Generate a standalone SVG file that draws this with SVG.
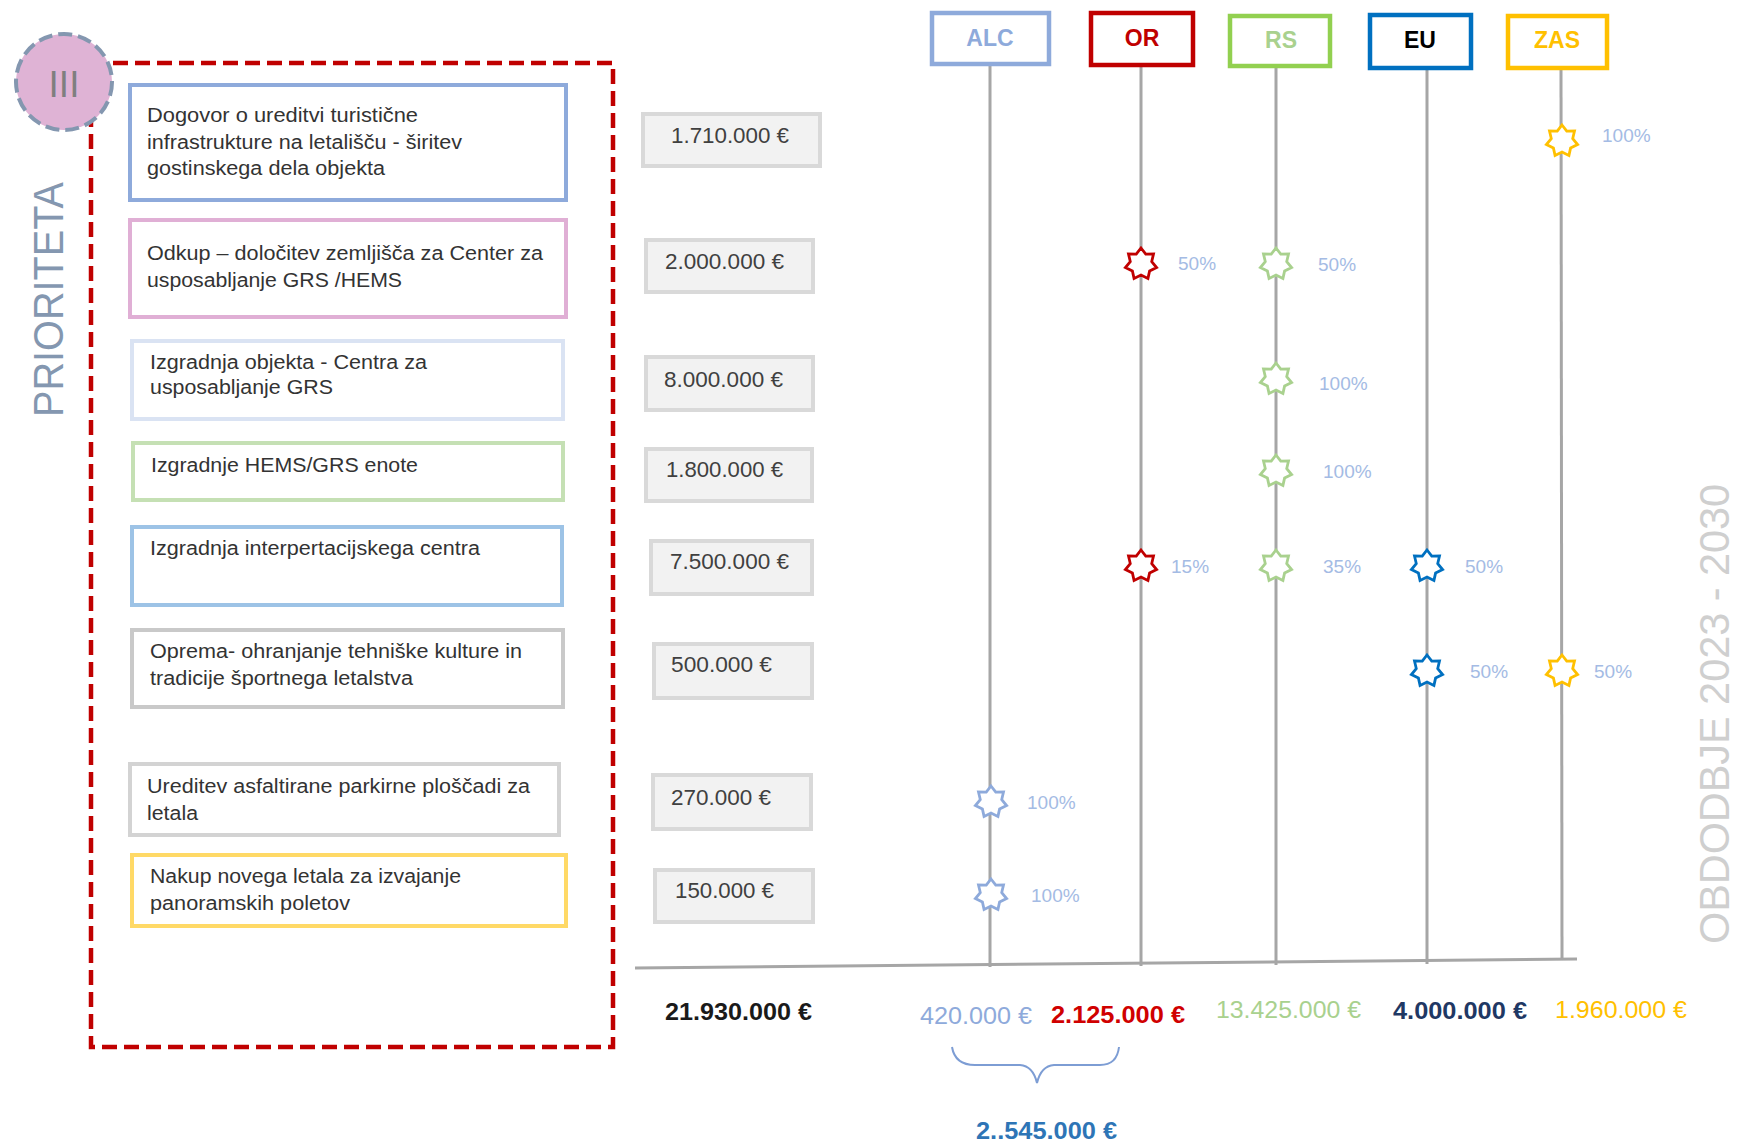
<svg xmlns="http://www.w3.org/2000/svg" xmlns:xlink="http://www.w3.org/1999/xlink" width="1737" height="1145" viewBox="0 0 1737 1145">
<style>
text{font-family:"Liberation Sans",Arial,sans-serif}
.task{fill:#fff;stroke-width:4}
.tt{font-size:20px;fill:#333}
.amt{fill:#f2f2f2;stroke:#d9d9d9;stroke-width:4}
.at{font-size:22px;fill:#404040}
.hdr{fill:#fff;stroke-width:4.5}
.ht{font-size:23px;font-weight:bold;text-anchor:middle}
.vl{stroke:#a6a6a6;stroke-width:3;fill:none}
.pct{font-size:19px;fill:#a4bbe4}
.star{fill:#fff;stroke-width:2.8;stroke-linejoin:miter}
.tot{font-size:24px}
</style>
<defs>
<path id="star" d="M0,-16 L4.77,-9.91 L12.51,-9.98 L10.72,-2.45 L15.6,3.56 L8.6,6.86 L6.94,14.42 L0,11 L-6.94,14.42 L-8.6,6.86 L-15.6,3.56 L-10.72,-2.45 L-12.51,-9.98 L-4.77,-9.91 Z"/>
</defs>
<rect width="1737" height="1145" fill="#fff"/>

<g id="connectors">
<line class="vl" x1="990" y1="64" x2="990" y2="967"/>
<line class="vl" x1="1141" y1="65" x2="1141" y2="966"/>
<line class="vl" x1="1276" y1="66" x2="1276" y2="965"/>
<line class="vl" x1="1427" y1="68" x2="1427" y2="964"/>
<line class="vl" x1="1561" y1="68" x2="1562" y2="960"/>
<line class="vl" x1="635" y1="968" x2="1577" y2="959"/>
<path d="M952,1047 Q955,1065 975,1065 L1020,1065 Q1033,1066 1037,1083 Q1041,1066 1054,1065 L1100,1065 Q1117,1065 1119,1047" fill="none" stroke="#7d9dd4" stroke-width="2"/>
</g>

<g id="priority-frame">
<rect x="91" y="63" width="522" height="984" fill="none" stroke="#c00000" stroke-width="4.5" stroke-dasharray="15 7"/>
</g>

<g id="priority-badge">
<circle cx="64" cy="82" r="48" fill="#dfb3d5" stroke="#8497b0" stroke-width="4" stroke-dasharray="14 6"/>
<text x="64" y="97" font-size="37" fill="#7f7f7f" text-anchor="middle">III</text>
</g>

<g id="label-prioriteta">
<text transform="translate(63,417) rotate(-90)" font-size="43" fill="#8497b0" textLength="235" lengthAdjust="spacingAndGlyphs">PRIORITETA</text>
</g>

<g id="label-obdobje">
<text transform="translate(1729,944) rotate(-90)" font-size="42" fill="#cfcfcf" textLength="460" lengthAdjust="spacingAndGlyphs">OBDODBJE 2023 - 2030</text>
</g>

<g id="task1">
<rect class="task" x="130" y="85" width="436" height="115" stroke="#8eaadb"/>
<text class="tt" x="147" y="122" textLength="271" lengthAdjust="spacingAndGlyphs">Dogovor o ureditvi turistične</text>
<text class="tt" x="147" y="149" textLength="315" lengthAdjust="spacingAndGlyphs">infrastrukture na letališču - širitev</text>
<text class="tt" x="147" y="175" textLength="238" lengthAdjust="spacingAndGlyphs">gostinskega dela objekta</text>
</g>
<g id="task2">
<rect class="task" x="130" y="220" width="436" height="97" stroke="#e0afd5"/>
<text class="tt" x="147" y="260" textLength="396" lengthAdjust="spacingAndGlyphs">Odkup – določitev zemljišča za Center za</text>
<text class="tt" x="147" y="287" textLength="255" lengthAdjust="spacingAndGlyphs">usposabljanje GRS /HEMS</text>
</g>
<g id="task3">
<rect class="task" x="132" y="341" width="431" height="78" stroke="#dae3f3"/>
<text class="tt" x="150" y="369" textLength="277" lengthAdjust="spacingAndGlyphs">Izgradnja objekta - Centra za</text>
<text class="tt" x="150" y="394" textLength="183" lengthAdjust="spacingAndGlyphs">usposabljanje GRS</text>
</g>
<g id="task4">
<rect class="task" x="133" y="443" width="430" height="57" stroke="#c5e0b4"/>
<text class="tt" x="151" y="472" textLength="267" lengthAdjust="spacingAndGlyphs">Izgradnje HEMS/GRS enote</text>
</g>
<g id="task5">
<rect class="task" x="132" y="527" width="430" height="78" stroke="#9dc3e6"/>
<text class="tt" x="150" y="555" textLength="330" lengthAdjust="spacingAndGlyphs">Izgradnja interpertacijskega centra</text>
</g>
<g id="task6">
<rect class="task" x="132" y="630" width="431" height="77" stroke="#c9c9c9"/>
<text class="tt" x="150" y="658" textLength="372" lengthAdjust="spacingAndGlyphs">Oprema- ohranjanje tehniške kulture in</text>
<text class="tt" x="150" y="685" textLength="263" lengthAdjust="spacingAndGlyphs">tradicije športnega letalstva</text>
</g>
<g id="task7">
<rect class="task" x="130" y="764" width="429" height="71" stroke="#d3d3d3"/>
<text class="tt" x="147" y="793" textLength="383" lengthAdjust="spacingAndGlyphs">Ureditev asfaltirane parkirne ploščadi za</text>
<text class="tt" x="147" y="820" textLength="51" lengthAdjust="spacingAndGlyphs">letala</text>
</g>
<g id="task8">
<rect class="task" x="132" y="855" width="434" height="71" stroke="#ffd966"/>
<text class="tt" x="150" y="883" textLength="311" lengthAdjust="spacingAndGlyphs">Nakup novega letala za izvajanje</text>
<text class="tt" x="150" y="910" textLength="200" lengthAdjust="spacingAndGlyphs">panoramskih poletov</text>
</g>

<g id="amount1"><rect class="amt" x="643" y="114" width="177" height="52"/><text class="at" x="671" y="143" textLength="118" lengthAdjust="spacingAndGlyphs">1.710.000 €</text></g>
<g id="amount2"><rect class="amt" x="646" y="240" width="167" height="52"/><text class="at" x="665" y="269" textLength="119" lengthAdjust="spacingAndGlyphs">2.000.000 €</text></g>
<g id="amount3"><rect class="amt" x="646" y="357" width="167" height="53"/><text class="at" x="664" y="387" textLength="119" lengthAdjust="spacingAndGlyphs">8.000.000 €</text></g>
<g id="amount4"><rect class="amt" x="646" y="449" width="166" height="52"/><text class="at" x="666" y="477" textLength="117" lengthAdjust="spacingAndGlyphs">1.800.000 €</text></g>
<g id="amount5"><rect class="amt" x="651" y="541" width="161" height="53"/><text class="at" x="670" y="569" textLength="119" lengthAdjust="spacingAndGlyphs">7.500.000 €</text></g>
<g id="amount6"><rect class="amt" x="654" y="644" width="158" height="54"/><text class="at" x="671" y="672" textLength="101" lengthAdjust="spacingAndGlyphs">500.000 €</text></g>
<g id="amount7"><rect class="amt" x="653" y="775" width="158" height="54"/><text class="at" x="671" y="805" textLength="100" lengthAdjust="spacingAndGlyphs">270.000 €</text></g>
<g id="amount8"><rect class="amt" x="655" y="870" width="158" height="52"/><text class="at" x="675" y="898" textLength="99" lengthAdjust="spacingAndGlyphs">150.000 €</text></g>

<g id="hdr-alc"><rect class="hdr" x="932" y="13" width="117" height="51" stroke="#8eaadb"/><text class="ht" x="990" y="46" fill="#8eaadb">ALC</text></g>
<g id="hdr-or"><rect class="hdr" x="1091" y="13" width="102" height="52" stroke="#c00000"/><text class="ht" x="1142" y="46" fill="#c00000">OR</text></g>
<g id="hdr-rs"><rect class="hdr" x="1230" y="16" width="100" height="50" stroke="#92d050"/><text class="ht" x="1281" y="48" fill="#a9d18e">RS</text></g>
<g id="hdr-eu"><rect class="hdr" x="1370" y="15" width="101" height="53" stroke="#0070c0"/><text class="ht" x="1420" y="48" fill="#000">EU</text></g>
<g id="hdr-zas"><rect class="hdr" x="1508" y="16" width="99" height="52" stroke="#ffc000"/><text class="ht" x="1557" y="48" fill="#ffc000">ZAS</text></g>

<g id="marks">
<use href="#star" xlink:href="#star" class="star" x="1562" y="141" stroke="#ffc000"/><text class="pct" x="1602" y="142">100%</text>
<use href="#star" xlink:href="#star" class="star" x="1141" y="264" stroke="#c00000"/><text class="pct" x="1178" y="270">50%</text>
<use href="#star" xlink:href="#star" class="star" x="1276" y="264" stroke="#a9d18e"/><text class="pct" x="1318" y="271">50%</text>
<use href="#star" xlink:href="#star" class="star" x="1276" y="379" stroke="#a9d18e"/><text class="pct" x="1319" y="390">100%</text>
<use href="#star" xlink:href="#star" class="star" x="1276" y="471" stroke="#a9d18e"/><text class="pct" x="1323" y="478">100%</text>
<use href="#star" xlink:href="#star" class="star" x="1141" y="566" stroke="#c00000"/><text class="pct" x="1171" y="573">15%</text>
<use href="#star" xlink:href="#star" class="star" x="1276" y="566" stroke="#a9d18e"/><text class="pct" x="1323" y="573">35%</text>
<use href="#star" xlink:href="#star" class="star" x="1427" y="566" stroke="#0070c0"/><text class="pct" x="1465" y="573">50%</text>
<use href="#star" xlink:href="#star" class="star" x="1427" y="671" stroke="#0070c0"/><text class="pct" x="1470" y="678">50%</text>
<use href="#star" xlink:href="#star" class="star" x="1562" y="671" stroke="#ffc000"/><text class="pct" x="1594" y="678">50%</text>
<use href="#star" xlink:href="#star" class="star" x="991" y="802" stroke="#8eaadb"/><text class="pct" x="1027" y="809">100%</text>
<use href="#star" xlink:href="#star" class="star" x="991" y="895" stroke="#8eaadb"/><text class="pct" x="1031" y="902">100%</text>
</g>

<g id="totals">
<text class="tot" x="665" y="1020" font-weight="bold" fill="#1a1a1a" textLength="147" lengthAdjust="spacingAndGlyphs">21.930.000 €</text>
<text class="tot" x="920" y="1024" fill="#8eaadb" textLength="112" lengthAdjust="spacingAndGlyphs">420.000 €</text>
<text class="tot" x="1051" y="1023" font-weight="bold" fill="#d00000" textLength="134" lengthAdjust="spacingAndGlyphs">2.125.000 €</text>
<text class="tot" x="1216" y="1018" fill="#a9d18e" textLength="145" lengthAdjust="spacingAndGlyphs">13.425.000 €</text>
<text class="tot" x="1393" y="1019" font-weight="bold" fill="#1f3864" textLength="134" lengthAdjust="spacingAndGlyphs">4.000.000 €</text>
<text class="tot" x="1555" y="1018" fill="#ffc000" textLength="132" lengthAdjust="spacingAndGlyphs">1.960.000 €</text>
<text class="tot" x="976" y="1139" font-weight="bold" fill="#2e75b6" textLength="141" lengthAdjust="spacingAndGlyphs">2..545.000 €</text>
</g>
</svg>
